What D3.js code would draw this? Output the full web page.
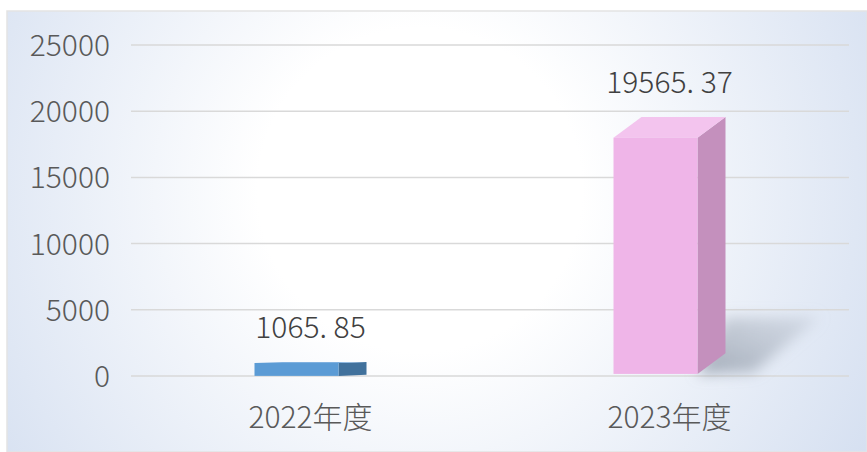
<!DOCTYPE html>
<html><head><meta charset="utf-8">
<script src="https://cdn.jsdelivr.net/npm/d3@7"></script>
<style>html,body{margin:0;padding:0;background:#fff;}svg{display:block;}</style>
</head><body>
<script>
const categories = ["2022年度", "2023年度"];
const values = [1065.85, 19565.37];
const valueLabels = ["1065. 85", "19565. 37"];
const tickValues = [0, 5000, 10000, 15000, 20000, 25000];
const barColors = [{front:"#5b9bd5", side:"#41719c", top:"#7fb0df"}, {front:"#efb5e8", side:"#c490bd", top:"#f3c4ee"}];

const W = 867, H = 452;
const svg = d3.select("body").append("svg").attr("width", W).attr("height", H);
const defs = svg.append("defs");
const rg = defs.append("radialGradient").attr("id","bg").attr("gradientUnits","userSpaceOnUse")
  .attr("cx",420).attr("cy",190).attr("r",540).attr("fx",420).attr("fy",190);
rg.append("stop").attr("offset","0").attr("stop-color","#ffffff");
rg.append("stop").attr("offset","0.3").attr("stop-color","#ffffff");
rg.append("stop").attr("offset","1").attr("stop-color","#d3def0");
const blur = defs.append("filter").attr("id","blur").attr("x","-50%").attr("y","-50%").attr("width","200%").attr("height","200%");
blur.append("feGaussianBlur").attr("stdDeviation",7);
const sg = defs.append("linearGradient").attr("id","shadowGrad").attr("x1","0").attr("y1","1").attr("x2","1").attr("y2","0");
sg.append("stop").attr("offset","0").attr("stop-color","#8f99a7").attr("stop-opacity",0.8);
sg.append("stop").attr("offset","1").attr("stop-color","#b4bcc8").attr("stop-opacity",0.35);

svg.append("rect").attr("x",7).attr("y",11).attr("width",W-7).attr("height",H-11)
  .attr("fill","url(#bg)").attr("stroke","#e3e3e3").attr("stroke-width",1.5);

const x0 = 131, x1 = 849;
const y = d3.scaleLinear().domain([0,25000]).range([376,45]);
const x = d3.scaleBand().domain(categories).range([x0,x1]);

const font = "'Noto Sans CJK SC','Noto Sans',sans-serif";
const textColor = "#595959";

// gridlines
svg.append("g").selectAll("line").data(tickValues).join("line")
  .attr("x1",x0).attr("x2",x1).attr("y1",d=>y(d)).attr("y2",d=>y(d))
  .attr("stroke","#d9d9d9").attr("stroke-width",1.5);

// y axis labels
const yAxis = d3.axisLeft(y).tickValues(tickValues).tickSize(0).tickPadding(0).tickFormat(d3.format("d"));
const ya = svg.append("g").attr("transform","translate(110,0)").call(yAxis);
ya.select(".domain").remove();
ya.selectAll("text").attr("font-family",font).attr("font-size",30).attr("font-weight",300)
  .attr("fill",textColor).attr("dy","0.35em");

// x axis labels
const xAxis = d3.axisBottom(x).tickSize(0).tickPadding(0);
const xa = svg.append("g").attr("transform","translate(0,428)").call(xAxis);
xa.select(".domain").remove();
xa.selectAll("text").attr("font-family",font).attr("font-size",30).attr("font-weight",300)
  .attr("fill",textColor).attr("dy",0).attr("y",0);

// bars
const frontW = 84, depthX = 28;
const data = categories.map((c,i)=>({c, v:values[i], lab:valueLabels[i], col:barColors[i]}));
const g = svg.append("g");
data.forEach(d=>{
  const cx = x(d.c) + x.bandwidth()/2;
  const xf0 = cx - (frontW+depthX)/2, xf1 = xf0 + frontW;
  const y0 = y(0), backTop = y(d.v);
  const dy = 0.08*(y0 - backTop);
  const frontTop = backTop + dy;
  const frontBot = y0 - dy*0.1;
  const h = frontBot - frontTop;
  // shadow
  if (h > 30) {
    const sh = 0.25*h, L = 0.4*h;
    g.append("polygon").attr("filter","url(#blur)").attr("fill","url(#shadowGrad)")
      .attr("points",[[xf1,frontBot],[xf1+depthX,y0-sh],[xf1+depthX+L,y0-sh],[xf1+depthX+0.12*h,y0-4]].map(p=>p.join(",")).join(" "));
  }
  // side
  g.append("polygon").attr("fill",d.col.side)
    .attr("points",[[xf1,frontTop],[xf1+depthX,backTop],[xf1+depthX,frontBot-dy],[xf1,frontBot]].map(p=>p.join(",")).join(" "));
  // top
  g.append("polygon").attr("fill",d.col.top)
    .attr("points",[[xf0,frontTop],[xf0+depthX,backTop],[xf1+depthX,backTop],[xf1,frontTop]].map(p=>p.join(",")).join(" "));
  // front
  g.append("rect").attr("x",xf0).attr("y",frontTop).attr("width",frontW).attr("height",h).attr("fill",d.col.front);
  // label
  g.append("text").attr("x",cx).attr("y",backTop-24).attr("text-anchor","middle")
    .attr("font-family",font).attr("font-size",30).attr("font-weight",300).attr("fill","#404040").text(d.lab);
});
</script>
</body></html>
